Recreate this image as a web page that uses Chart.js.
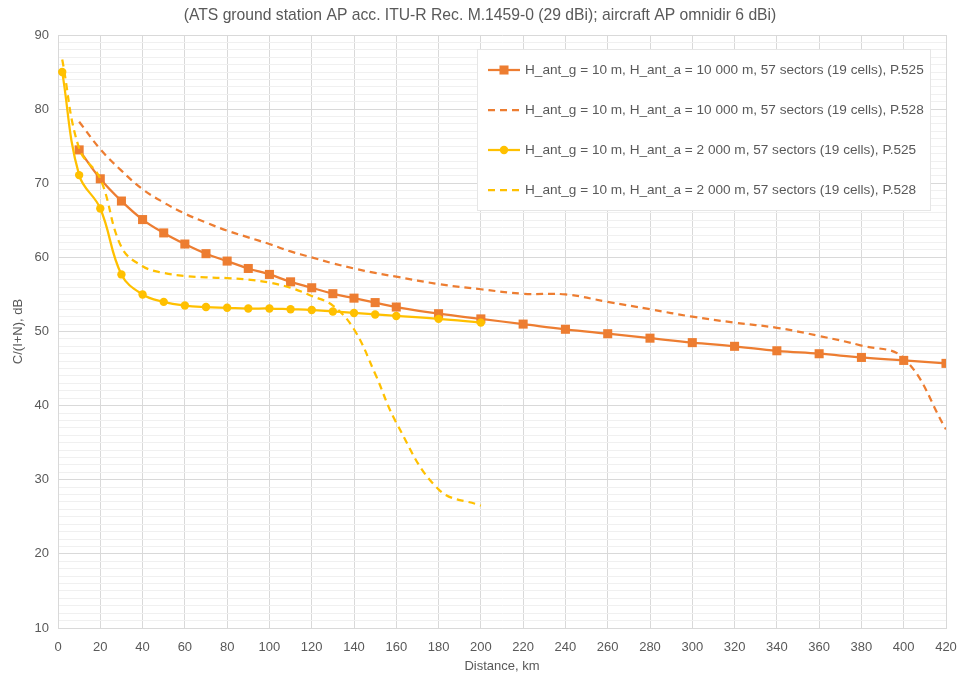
<!DOCTYPE html>
<html>
<head>
<meta charset="utf-8">
<script src="https://cdn.jsdelivr.net/npm/chart.js@4"></script>
<style>
  html, body { margin: 0; padding: 0; background: #fff; }
  #wrap { width: 960px; height: 678px; }
</style>
</head>
<body>
<div id="wrap"><canvas id="c" width="960" height="678"></canvas></div>
<script>
// distances, km
const distHigh = [10, 20, 30, 40, 50, 60, 70, 80, 90, 100, 110, 120, 130, 140, 150, 160, 180, 200, 220, 240, 260, 280, 300, 320, 340, 360, 380, 400, 420];
const distLow = [2, 10, 20, 30, 40, 50, 60, 70, 80, 90, 100, 110, 120, 130, 140, 150, 160, 180, 200];

// C/(I+N), dB
const high525 = [74.5, 70.6, 67.6, 65.1, 63.3, 61.8, 60.5, 59.5, 58.5, 57.7, 56.7, 55.9, 55.1, 54.5, 53.9, 53.3, 52.4, 51.7, 51.0, 50.3, 49.7, 49.1, 48.5, 48.0, 47.4, 47.0, 46.5, 46.1, 45.7];
const high528 = [78.3, 74.6, 71.7, 69.2, 67.4, 65.9, 64.7, 63.6, 62.7, 61.8, 60.8, 60.0, 59.2, 58.5, 57.9, 57.4, 56.4, 55.7, 55.1, 55.0, 54.0, 53.0, 52.0, 51.2, 50.5, 49.4, 48.1, 46.4, 36.8];
const low525 = [85.0, 71.1, 66.6, 57.7, 55.0, 54.0, 53.5, 53.3, 53.2, 53.1, 53.1, 53.0, 52.9, 52.7, 52.5, 52.3, 52.1, 51.7, 51.2];
const low528 = [86.7, 74.7, 70.6, 61.4, 58.8, 57.9, 57.5, 57.3, 57.2, 57.0, 56.6, 55.9, 54.8, 53.5, 50.3, 44.3, 37.7, 28.7, 26.5];

const seriesNames = [
  'H_ant_g = 10 m, H_ant_a = 10 000 m, 57 sectors (19 cells), P.525',
  'H_ant_g = 10 m, H_ant_a = 10 000 m, 57 sectors (19 cells), P.528',
  'H_ant_g = 10 m, H_ant_a = 2 000 m, 57 sectors (19 cells), P.525',
  'H_ant_g = 10 m, H_ant_a = 2 000 m, 57 sectors (19 cells), P.528'
];
const titleText = '(ATS ground station AP acc. ITU-R Rec. M.1459-0 (29 dBi); aircraft AP omnidir 6 dBi)';

const ORANGE = '#ED7D31';
const YELLOW = '#FFC000';
const GREY = '#595959';
const FONT = "'Liberation Sans', sans-serif";

function pts(xs, ys) {
  return xs.map((x, i) => ({ x: x, y: ys[i] }));
}

// title and boxed legend drawn on the canvas
const boxLegend = {
  id: 'boxLegend',
  afterDraw(chart) {
    const ctx = chart.ctx;
    ctx.save();
    ctx.fillStyle = GREY;
    ctx.font = "15.7px " + FONT;
    ctx.textAlign = 'center';
    ctx.textBaseline = 'middle';
    ctx.fillText(titleText, 480, 16);

    ctx.fillStyle = '#fff';
    ctx.fillRect(477, 49, 453, 161);
    ctx.strokeStyle = '#e6e6e6';
    ctx.lineWidth = 1;
    ctx.strokeRect(477.5, 49.5, 453, 161);

    chart.data.datasets.forEach((ds, i) => {
      const y = 70 + i * 40;
      ctx.strokeStyle = ds.borderColor;
      ctx.lineWidth = ds.borderWidth;
      ctx.setLineDash(ds.borderDash || []);
      ctx.beginPath();
      ctx.moveTo(488, y);
      ctx.lineTo(520, y);
      ctx.stroke();
      ctx.setLineDash([]);
      if (ds.pointRadius > 0) {
        ctx.fillStyle = ds.pointBackgroundColor;
        ctx.beginPath();
        if (ds.pointStyle === 'rect') {
          const s = ds.pointRadius * Math.SQRT1_2;
          ctx.rect(504 - s, y - s, 2 * s, 2 * s);
        } else {
          ctx.arc(504, y, ds.pointRadius, 0, Math.PI * 2);
        }
        ctx.fill();
      }
      ctx.fillStyle = GREY;
      ctx.font = "13.6px " + FONT;
      ctx.textAlign = 'left';
      ctx.fillText(ds.label, 525, y);
    });
    ctx.restore();
  }
};

new Chart(document.getElementById('c'), {
  type: 'line',
  data: {
    datasets: [
      {
        label: seriesNames[0], data: pts(distHigh, high525), order: 4,
        borderColor: ORANGE, backgroundColor: ORANGE, borderWidth: 2.25,
        pointStyle: 'rect', pointRadius: 6.4, pointBackgroundColor: ORANGE, pointBorderColor: ORANGE,
        pointBorderWidth: 0, tension: 0.4
      },
      {
        label: seriesNames[1], data: pts(distHigh, high528), order: 3,
        borderColor: ORANGE, backgroundColor: ORANGE, borderWidth: 2.25, borderDash: [7, 5],
        pointRadius: 0, tension: 0.4
      },
      {
        label: seriesNames[2], data: pts(distLow, low525), order: 2,
        borderColor: YELLOW, backgroundColor: YELLOW, borderWidth: 2.25,
        pointStyle: 'circle', pointRadius: 4.2, pointBackgroundColor: YELLOW, pointBorderColor: YELLOW,
        pointBorderWidth: 0, tension: 0.4
      },
      {
        label: seriesNames[3], data: pts(distLow, low528), order: 1,
        borderColor: YELLOW, backgroundColor: YELLOW, borderWidth: 2.25, borderDash: [7, 5],
        pointRadius: 0, tension: 0.4
      }
    ]
  },
  options: {
    responsive: false,
    animation: false,
    layout: { padding: { top: 35, right: 14, left: 0, bottom: 0 } },
    plugins: {
      legend: { display: false },
      tooltip: { enabled: false },
      title: { display: false }
    },
    scales: {
      x: {
        type: 'linear', min: 0, max: 420,
        afterFit: (s) => { s.height = 50; s.paddingRight = 0; s.paddingLeft = 0; },
        ticks: { stepSize: 20, padding: 12, color: GREY, font: { family: FONT, size: 13 } },
        grid: { color: '#d9d9d9', drawTicks: false },
        border: { color: '#d9d9d9' },
        title: { display: true, text: 'Distance, km', color: GREY, font: { family: FONT, size: 13 }, padding: { top: 5 } }
      },
      y: {
        min: 10, max: 90,
        afterFit: (s) => { s.width = 58; s.paddingTop = 0; s.paddingBottom = 0; },
        ticks: {
          stepSize: 1, autoSkip: false, padding: 9, color: GREY, font: { family: FONT, size: 13 },
          callback: (v) => (v % 10 === 0 ? v : '')
        },
        grid: {
          drawTicks: false,
          color: (c) => (c.tick && c.tick.value % 10 === 0 ? '#d9d9d9' : '#f0f0f0')
        },
        border: { color: '#d9d9d9' },
        title: { display: true, text: 'C/(I+N), dB', color: GREY, font: { family: FONT, size: 13 }, padding: { top: 11, bottom: 0 } }
      }
    }
  },
  plugins: [boxLegend]
});
</script>
</body>
</html>
